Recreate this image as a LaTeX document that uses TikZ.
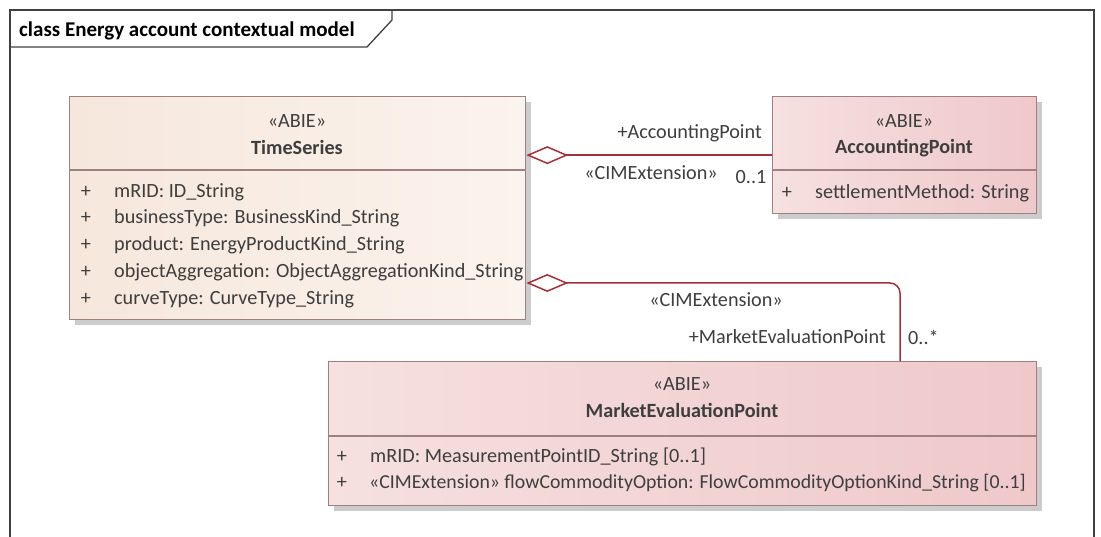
\documentclass[tikz,border=0pt]{standalone}
\usepackage{fontspec}
\setmainfont{Carlito}
\usetikzlibrary{arrows.meta,shadows}

\definecolor{umlLine}{RGB}{166,48,58}
\definecolor{umlBorder}{RGB}{158,128,126}
\definecolor{umlText}{RGB}{62,62,62}
\definecolor{frameLine}{RGB}{64,64,64}
\definecolor{tsLeft}{RGB}{246,231,220}
\definecolor{tsRight}{RGB}{251,243,237}
\definecolor{apLeft}{RGB}{246,224,224}
\definecolor{apRight}{RGB}{239,200,202}

\tikzset{
	frame/.style={draw=frameLine, line width=1.3pt},
	classbox/.style={draw=umlBorder, line width=1.3pt, anchor=north west, inner sep=0pt,
		drop shadow={shadow xshift=5pt, shadow yshift=-5pt, fill=black!20, opacity=1}},
	divider/.style={draw=umlBorder, line width=1.3pt},
	txt/.style={text=umlText, font=\fontsize{20.2}{24}\selectfont, inner sep=0pt,
		text height=17pt, text depth=2pt},
	bold/.style={txt, font=\fontsize{20.2}{24}\selectfont\bfseries},
	assoc/.style={draw=umlLine, line width=1.5pt,
		arrows={Diamond[open, length=42pt, width=18pt]-}},
}

\begin{document}
\begin{tikzpicture}[x=1pt, y=-1pt]

	\def\attrLine#1#2#3#4{
		\node[txt] (#1plus) at (#2,#3) {+};
		\node[txt, anchor=west] (#1) at (#2+28,#3) {#4};
	}

	\useasboundingbox (0,0) rectangle (1101,537);

	% frame
	\draw[frame] (10,545) -- (10,10) -- (1094,10) -- (1094,545);
	\draw[frame] (10,47) -- (367,47) -- (392,20) -- (392,10);
	\node[bold, anchor=west, text=black, font=\fontsize{21}{24}\selectfont\bfseries] (frameTitle) at (19,29) {class Energy account contextual model};

	% TimeSeries
	\node[classbox, left color=tsLeft, right color=tsRight,
		minimum width=456, minimum height=223] (ts) at (69,96) {};
	\draw[divider] (ts.west |- 0,170) -- (ts.east |- 0,170);
	\node[txt] (tsStereo) at (297,120) {«ABIE»};
	\node[bold] (tsName) at (297,147) {TimeSeries};
	\attrLine{tsA}{86}{190}{mRID: ID\_String}
	\attrLine{tsB}{86}{216}{businessType: BusinessKind\_String}
	\attrLine{tsC}{86}{243}{product: EnergyProductKind\_String}
	\attrLine{tsD}{86}{270}{objectAggregation: ObjectAggregationKind\_String}
	\attrLine{tsE}{86}{297}{curveType: CurveType\_String}

	% AccountingPoint
	\node[classbox, left color=apLeft, right color=apRight,
		minimum width=264, minimum height=117] (ap) at (772,96) {};
	\draw[divider] (ap.west |- 0,170) -- (ap.east |- 0,170);
	\node[txt] (apStereo) at (904,120) {«ABIE»};
	\node[bold] (apName) at (904,146) {AccountingPoint};
	\attrLine{apA}{787}{191}{settlementMethod: String}

	% MarketEvaluationPoint
	\node[classbox, left color=apLeft, right color=apRight,
		minimum width=708, minimum height=144] (mep) at (328,361) {};
	\draw[divider] (mep.west |- 0,436) -- (mep.east |- 0,436);
	\node[txt] (mepStereo) at (682,383) {«ABIE»};
	\node[bold] (mepName) at (682,410) {MarketEvaluationPoint};
	\attrLine{mepA}{342}{455}{mRID: MeasurementPointID\_String [0..1]}
	\node[txt] (mepBplus) at (342,481) {+};
	\node[txt, anchor=west, font=\fontsize{19.8}{24}\selectfont] (mepB) at (369,481)
		{«CIMExtension» flowCommodityOption: FlowCommodityOptionKind\_String [0..1]};

	% associations
	\draw[assoc] (ts.east |- ap.west) -- (ap.west);
	\node[txt, anchor=east] (apRole) at (762,131) {+AccountingPoint};
	\node[txt] (apStereoLink) at (651,172) {«CIMExtension»};
	\node[txt] (apMult) at (751,176) {0..1};

	\coordinate (mepTop) at (900,361);
	\draw[assoc, rounded corners=10pt] (ts.east |- 0,283) -| (mepTop);
	\node[txt] (mepStereoLink) at (716,299) {«CIMExtension»};
	\node[txt, anchor=east] (mepRole) at (886,336) {+MarketEvaluationPoint};
	\node[txt, anchor=west] (mepMult) at (908,337) {0..*};

\end{tikzpicture}
\end{document}
